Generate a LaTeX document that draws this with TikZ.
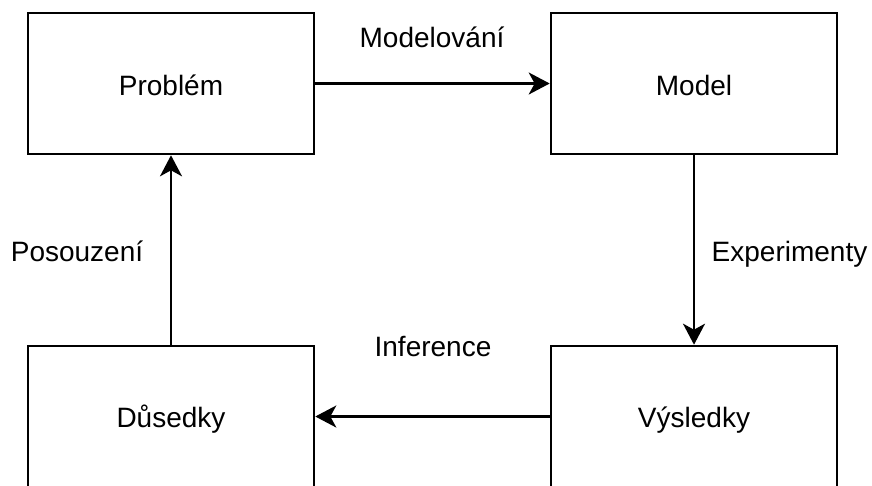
\documentclass[tikz,border=0pt]{standalone}
\usepackage{fontspec}
\setmainfont{Liberation Sans}
\usetikzlibrary{arrows.meta}
\begin{document}
\begin{tikzpicture}[x=1pt,y=-1pt,
  stage/.style={draw=black, line width=2.6pt, rectangle, inner sep=0pt,
    minimum width=286pt, minimum height=141pt, text depth=0pt,
    font=\fontsize{28}{32}\selectfont},
  flowlabel/.style={inner sep=0pt, anchor=base, font=\fontsize{28}{32}\selectfont},
  flow/.style={line width=2.6pt,
    -{Stealth[length=21pt, width=22pt, inset=6pt]}}]
  \useasboundingbox (0,0) rectangle (872,485);
  % the four stages of the modelling cycle
  \node[stage] (problem) at (171,83.5) {};
  \node[stage] (model) at (694,83.5) {};
  \node[stage] (dusledky) at (171,416.5) {};
  \node[stage] (vysledky) at (694,416.5) {};
  \node[flowlabel] (tp) at (171,95.7) {Problém};
  \node[flowlabel] (tm) at (694,95.7) {Model};
  \node[flowlabel] (td) at (171,427.7) {Důsedky};
  \node[flowlabel] (tv) at (694,427.7) {Výsledky};
  % connectors between stages
  \draw[flow] (problem.east) -- (model.west);
  \draw[flow] (model.south) -- (vysledky.north);
  \draw[flow] (vysledky.west) -- (dusledky.east);
  \draw[flow] (dusledky.north) -- (problem.south);
  % step labels
  \node[flowlabel] (lmod) at (432,47) {Modelování};
  \node[flowlabel] (lexp) at (789.5,261) {Experimenty};
  \node[flowlabel] (linf) at (433,356) {Inference};
  \node[flowlabel] (lpos) at (77,261) {Posouzení};
\end{tikzpicture}
\end{document}
